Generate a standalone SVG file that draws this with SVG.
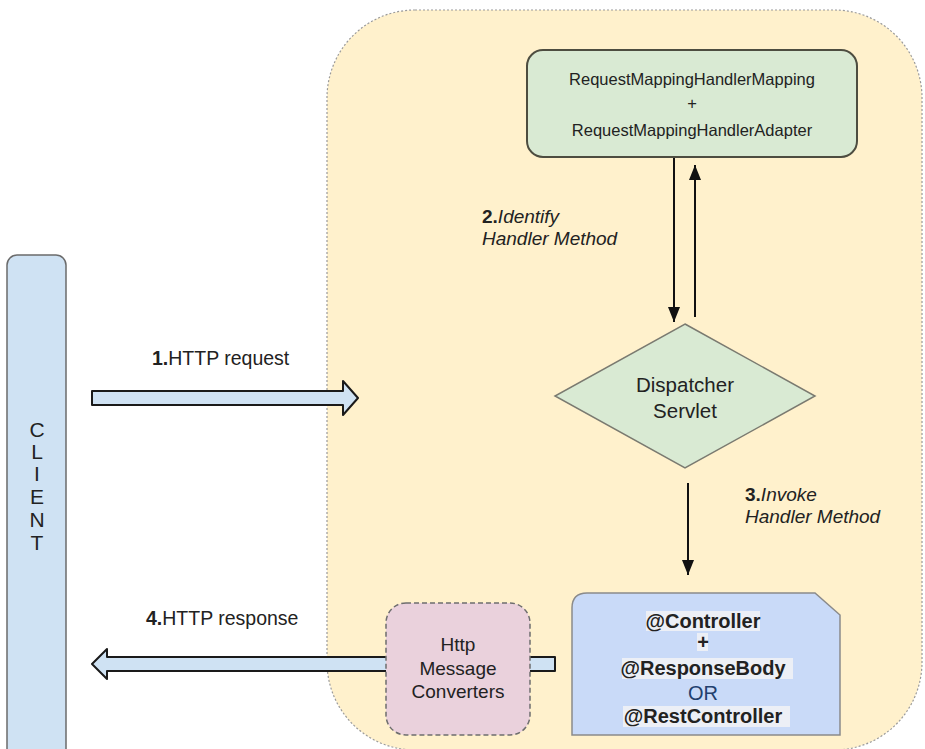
<svg xmlns="http://www.w3.org/2000/svg" width="925" height="749" viewBox="0 0 925 749">
<defs>
<style>
text{font-family:"Liberation Sans",Arial,sans-serif;fill:#222}
.c{text-anchor:middle}
.b{font-weight:bold}
.i{font-style:italic}
.hl{fill:#eceff6}
.line{stroke:#111;stroke-width:2;fill:none}
.block{fill:#cfe2f3;stroke:#1a1a1a;stroke-width:2;stroke-linejoin:round}
</style>
<marker id="ah2" viewBox="0 0 15 12" refX="15" refY="6" markerWidth="15" markerHeight="12" markerUnits="userSpaceOnUse" orient="auto">
<path d="M0,0 L15,6 L0,12 Z" fill="#111"/>
</marker>
</defs>
<rect width="925" height="749" fill="#ffffff"/>
<g id="container">
<rect x="327" y="10" width="595" height="740" rx="88" ry="88" fill="#fff1cc" stroke="#9a9a9a" stroke-width="1.2" stroke-dasharray="2,2"/>
</g>
<g id="connectors">
<path class="block" d="M92,391 L343,391 L343,381 L358,398 L343,415 L343,405 L92,405 Z"/>
<path class="block" d="M555,657 L107,657 L107,649 L92,664 L107,679 L107,671 L555,671 Z"/>
<line class="line" x1="674" y1="157" x2="674" y2="322" marker-end="url(#ah2)"/>
<line class="line" x1="695" y1="317" x2="695" y2="165" marker-end="url(#ah2)"/>
<line class="line" x1="688" y1="483" x2="688" y2="575" marker-end="url(#ah2)"/>
</g>
<g id="client">
<rect x="7" y="255" width="59" height="510" rx="10" ry="10" fill="#cfe2f3" stroke="#6b6b6b" stroke-width="1.5"/>
<text class="c" x="37" y="437" font-size="21">C</text>
<text class="c" x="37" y="459" font-size="21">L</text>
<text class="c" x="37" y="481" font-size="21">I</text>
<text class="c" x="37" y="504" font-size="21">E</text>
<text class="c" x="37" y="527" font-size="21">N</text>
<text class="c" x="37" y="550" font-size="21">T</text>
</g>
<g id="handler-mapping">
<rect x="527" y="50" width="330" height="107" rx="16" ry="16" fill="#d9ead3" stroke="#4d4d40" stroke-width="2"/>
<text class="c" x="692" y="85" font-size="16.5">RequestMappingHandlerMapping</text>
<text class="c" x="692" y="109" font-size="16.5">+</text>
<text class="c" x="692" y="136" font-size="16.5">RequestMappingHandlerAdapter</text>
</g>
<g id="dispatcher">
<polygon points="685,324 815,396 685,468 555,396" fill="#d9ead3" stroke="#7a7a70" stroke-width="1.5"/>
<text class="c" x="685" y="392" font-size="20.5">Dispatcher</text>
<text class="c" x="685" y="418" font-size="20.5">Servlet</text>
</g>
<g id="controller">
<path d="M572,608 Q572,593 587,593 L815,593 L840,615 L840,735 L572,735 Z" fill="#c9daf8" stroke="#8a8a8a" stroke-width="1.5"/>
<rect class="hl" x="646" y="611" width="114" height="20"/>
<rect class="hl" x="697" y="633" width="11" height="18"/>
<rect class="hl" x="622" y="658" width="171" height="21"/>
<rect class="hl" x="623" y="706" width="167" height="21"/>
<text class="c b" x="703" y="628" font-size="20">@Controller</text>
<text class="c b" x="703" y="649" font-size="20">+</text>
<text class="c b" x="703" y="675" font-size="20">@ResponseBody</text>
<text class="c" x="703" y="700" font-size="20" style="fill:#22406e">OR</text>
<text class="c b" x="703" y="723" font-size="20">@RestController</text>
</g>
<g id="converters">
<rect x="386" y="603" width="144" height="132" rx="20" ry="20" fill="#ead1dc" stroke="#6e6e6e" stroke-width="1.5" stroke-dasharray="5,3"/>
<text class="c" x="458" y="651" font-size="19">Http</text>
<text class="c" x="458" y="675" font-size="19">Message</text>
<text class="c" x="458" y="698" font-size="19">Converters</text>
</g>
<g id="labels">
<text x="152" y="365" font-size="19.5"><tspan class="b">1.</tspan>HTTP request</text>
<text x="146" y="625" font-size="19.5"><tspan class="b">4.</tspan>HTTP response</text>
<text x="482" y="223" font-size="19"><tspan class="b">2.</tspan><tspan class="i">Identify</tspan></text>
<text class="i" x="482" y="245" font-size="19">Handler Method</text>
<text x="745" y="501" font-size="19"><tspan class="b">3.</tspan><tspan class="i">Invoke</tspan></text>
<text class="i" x="745" y="523" font-size="19">Handler Method</text>
</g>
</svg>
